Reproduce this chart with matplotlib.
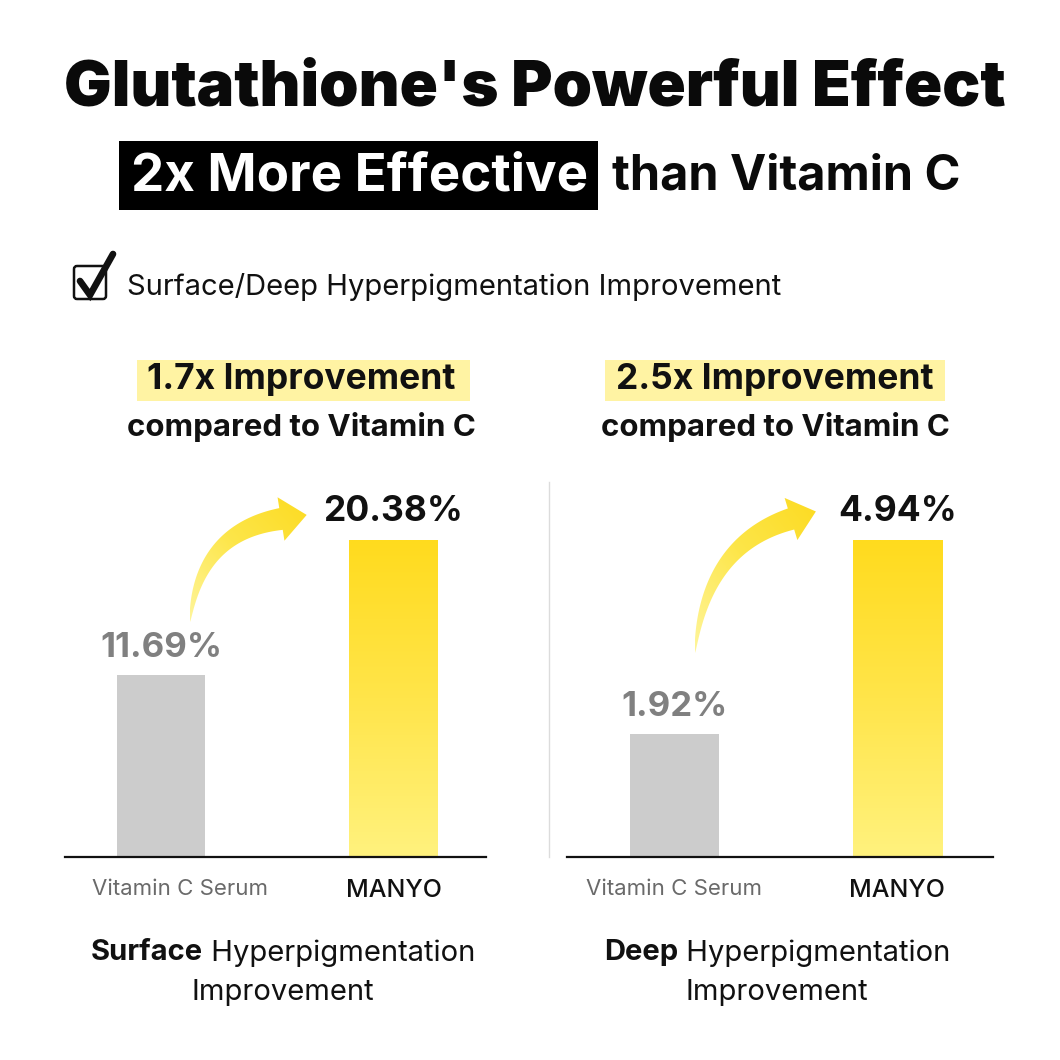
import numpy as np
import matplotlib
matplotlib.use("Agg")
import matplotlib.pyplot as plt
from matplotlib.patches import Rectangle, Polygon, FancyBboxPatch
from matplotlib.colors import LinearSegmentedColormap

# ---------------- data ----------------
categories = ["Vitamin C Serum", "MANYO"]
surface_values = [11.69, 20.38]
deep_values = [1.92, 4.94]
value_labels_surface = ["11.69%", "20.38%"]
value_labels_deep = ["1.92%", "4.94%"]
multipliers = ["1.7x Improvement", "2.5x Improvement"]
panel_titles_bold = ["Surface", "Deep"]

plt.rcParams['font.family'] = ['Inter', 'DejaVu Sans']

W = H = 1060
fig = plt.figure(figsize=(10.6, 10.6), dpi=100)
fig.patch.set_facecolor("white")

def px_axes(x0, x1, ytop, ybot):
    return [x0 / W, 1 - ybot / H, (x1 - x0) / W, (ybot - ytop) / H]

yellow_cmap = LinearSegmentedColormap.from_list("yg", ["#FFF27E", "#FFE54A", "#FFDB1E"])
arrow_cmap = LinearSegmentedColormap.from_list("ya", ["#FFF59A", "#FDE64A", "#FCDB22"])
GRAY_BAR = "#CCCCCC"

def draw_panel(rect, values, labels, xlim, width, cat_offset):
    ax = fig.add_axes(rect)
    x = np.arange(len(values))
    ymax = max(values) / 0.8408
    bars = ax.bar(x, values, width=width, color=[GRAY_BAR, "none"], edgecolor="none", zorder=2)
    b = bars[1]
    grad = np.linspace(0, 1, 256).reshape(-1, 1)
    ax.imshow(grad, extent=(b.get_x(), b.get_x() + b.get_width(), 0, b.get_height()),
              origin="lower", aspect="auto", cmap=yellow_cmap, zorder=2)
    ax.set_xlim(*xlim)
    ax.set_ylim(0, ymax)
    for s in ["top", "right", "left"]:
        ax.spines[s].set_visible(False)
    ax.spines["bottom"].set_linewidth(1.6)
    ax.spines["bottom"].set_color("#111111")
    ax.set_yticks([])
    ax.set_xticks(x)
    ax.set_xticklabels([])
    ax.tick_params(axis="x", length=0)
    ax.patch.set_alpha(0)
    ax.annotate(labels[0], (x[0], values[0]), xytext=(0, 8), textcoords="offset points",
                ha="center", va="bottom", fontsize=25, fontweight="bold", color="#808080")
    ax.annotate(labels[1], (x[1], values[1]), xytext=(0, 9), textcoords="offset points",
                ha="center", va="bottom", fontsize=25.5, fontweight="bold", color="#111111")
    ax.annotate(categories[0], (x[0] + cat_offset, 0), xytext=(0, -16), textcoords="offset points",
                ha="center", va="top", fontsize=16, color="#6a6a6a")
    ax.annotate(categories[1], (x[1], 0), xytext=(0, -16), textcoords="offset points",
                ha="center", va="top", fontsize=18, fontweight="medium", color="#111111")
    return ax

axL = draw_panel(px_axes(65, 486, 480, 857), surface_values, value_labels_surface,
                 (-0.413, 1.398), 0.38, 0.08)
axR = draw_panel(px_axes(567, 993, 480, 857), deep_values, value_labels_deep,
                 (-0.482, 1.43), 0.40, 0.0)

# ---------------- overlay (pixel coordinates) ----------------
ov = fig.add_axes([0, 0, 1, 1], zorder=5)
ov.set_xlim(0, W)
ov.set_ylim(H, 0)
ov.axis("off")
ov.patch.set_alpha(0)

ov.text(535, 89, "Glutathione's Powerful Effect", ha="center", va="center",
        fontsize=45.5, fontweight="black", color="#0a0a0a")
ov.add_patch(Rectangle((119, 141), 479, 69, facecolor="#000000", edgecolor="none"))
ov.text(360, 177, "2x More Effective", ha="center", va="center", fontsize=38,
        fontweight="bold", color="white")
ov.text(786, 177, "than Vitamin C", ha="center", va="center", fontsize=35,
        fontweight="bold", color="#0a0a0a")

# checkbox
ov.add_patch(FancyBboxPatch((74, 266), 32, 33, boxstyle="round,pad=0,rounding_size=3",
                            facecolor="none", edgecolor="#111111", lw=1.8))
ov.plot([80, 90, 113], [281, 295, 254], color="#111111", lw=4.8,
        solid_capstyle="round", solid_joinstyle="miter")
ov.text(127, 287, "Surface/Deep Hyperpigmentation Improvement", ha="left", va="center",
        fontsize=21, color="#111111")

HL = "#FFF3A3"
for (bx0, bx1, cx), txt in zip([(137, 470, 301), (605, 945, 775)], multipliers):
    ov.add_patch(Rectangle((bx0, 360), bx1 - bx0, 41, facecolor=HL, edgecolor="none"))
    ov.text(cx, 380, txt, ha="center", va="center", fontsize=25.5, fontweight="bold", color="#111111")
    ov.text(cx, 427, "compared to Vitamin C", ha="center", va="center", fontsize=22.5,
            fontweight="bold", color="#111111")

ov.plot([549, 549], [482, 857], color="#dcdcdc", lw=1)

def curved_arrow(p0, p1, p2, w_end=22, head_w=44, head_len=26):
    p0, p1, p2 = map(np.array, (p0, p1, p2))
    t = np.linspace(0, 1, 80)[:, None]
    pts = (1 - t) ** 2 * p0 + 2 * (1 - t) * t * p1 + t ** 2 * p2
    der = 2 * (1 - t) * (p1 - p0) + 2 * t * (p2 - p1)
    tang = der / np.linalg.norm(der, axis=1, keepdims=True)
    nrm = np.column_stack([-tang[:, 1], tang[:, 0]])
    w = (w_end / 2) * (t[:, 0] ** 0.7)
    left = pts + nrm * w[:, None]
    right = pts - nrm * w[:, None]
    te = tang[-1]
    ne = nrm[-1]
    tip = p2 + te * head_len
    hl = p2 + ne * head_w / 2
    hr = p2 - ne * head_w / 2
    poly = np.vstack([left, hl, tip, hr, right[::-1]])
    patch = Polygon(poly, closed=True, facecolor="none", edgecolor="none", zorder=6)
    ov.add_patch(patch)
    xmin, ymin = poly.min(axis=0)
    xmax, ymax = poly.max(axis=0)
    # diagonal gradient: pale at tail (bottom-left), bright at head (top-right)
    gx, gy = np.meshgrid(np.linspace(0, 1, 64), np.linspace(0, 1, 64))
    g = 0.5 * gx + 0.5 * (1 - gy)
    im = ov.imshow(g, extent=(xmin, xmax, ymax, ymin), origin="upper", cmap=arrow_cmap,
                   aspect="auto", zorder=6, interpolation="bilinear")
    im.set_clip_path(patch)

curved_arrow((190, 622), (199, 532), (281, 519))
curved_arrow((695, 653), (705, 545), (791, 519))
ov.set_xlim(0, W)
ov.set_ylim(H, 0)

fig.canvas.draw()
r = fig.canvas.get_renderer()
for cx, bold in zip([283, 777], panel_titles_bold):
    t1 = ov.text(0, 953, bold, ha="left", va="center", fontsize=21, fontweight="bold", color="#111111")
    t2 = ov.text(0, 953, " Hyperpigmentation", ha="left", va="center", fontsize=21, color="#111111")
    w1 = t1.get_window_extent(r).width
    w2 = t2.get_window_extent(r).width
    x0 = cx - (w1 + w2) / 2
    t1.set_x(x0)
    t2.set_x(x0 + w1)
    ov.text(cx, 993, "Improvement", ha="center", va="center", fontsize=21, color="#111111")

fig.savefig("out.png", dpi=100, facecolor="white")
